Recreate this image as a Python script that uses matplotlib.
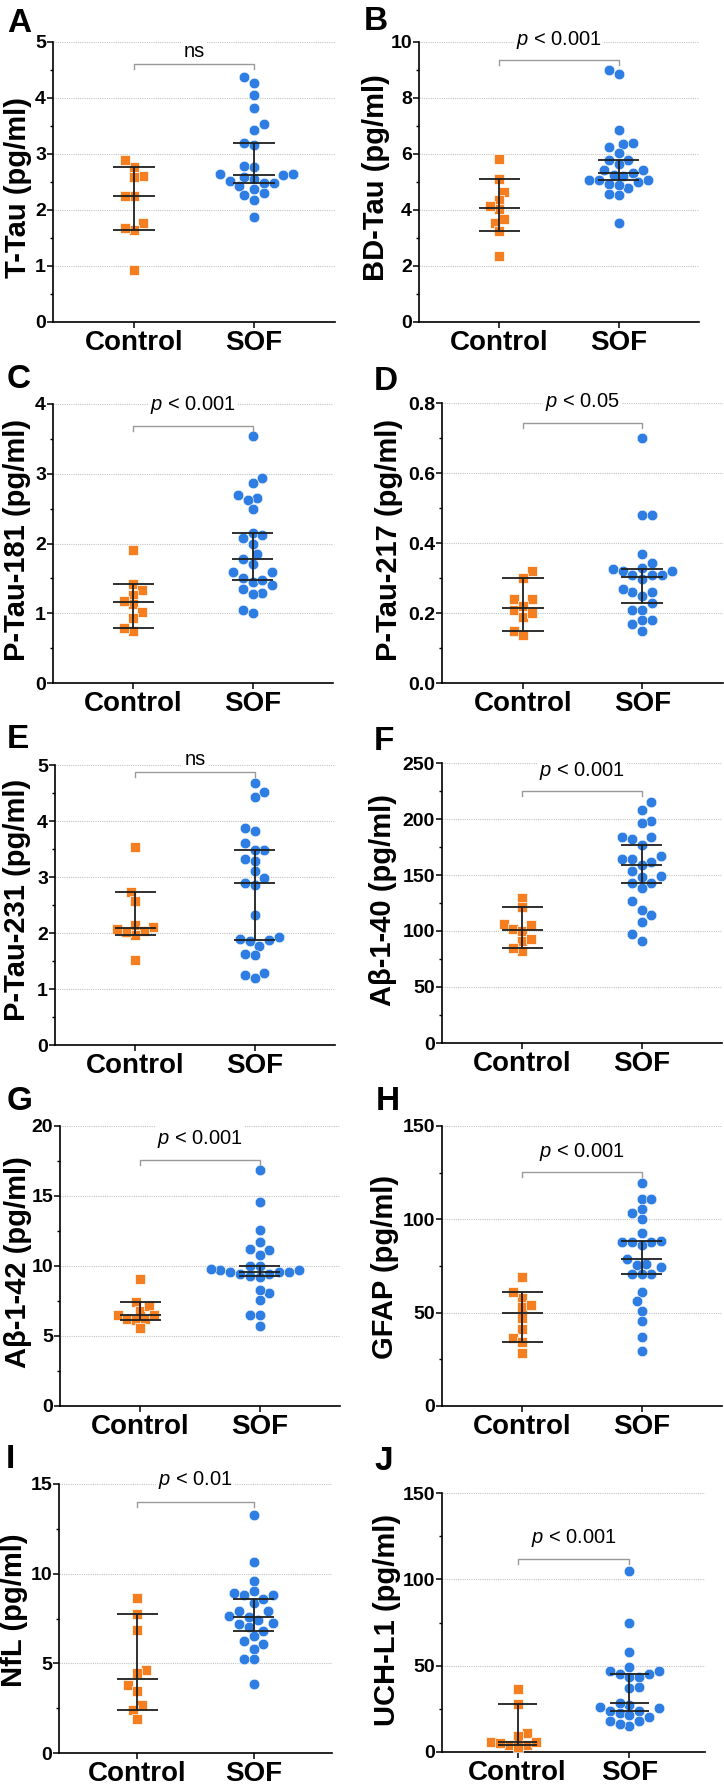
import numpy as np
import matplotlib
matplotlib.use("Agg")
import matplotlib.pyplot as plt
from matplotlib.ticker import MultipleLocator, FormatStrFormatter
from math import comb

# =========================================================
# DATA
# =========================================================
groups = ["Control", "SOF"]

ttau_ctrl = [2.61, 2.77, 2.89, 2.59, 2.25, 2.25, 1.77, 1.65, 1.68, 0.92]
ttau_sof = [4.38, 4.26, 4.05, 3.82, 3.54, 3.43, 3.20, 3.16, 2.79, 2.77, 2.625, 2.64,
            2.59, 2.64, 2.52, 2.55, 2.49, 2.49, 2.43, 2.37, 2.27, 2.31, 2.18, 1.88]

bdtau_ctrl = [5.83, 5.12, 4.64, 4.35, 4.02, 4.13, 3.54, 3.69, 3.25, 2.35]
bdtau_sof = [9.01, 8.85, 6.87, 6.25, 6.35, 6.40, 6.04, 5.77, 5.80, 5.65, 5.33, 5.21, 5.26,
             5.42, 5.42, 5.08, 5.06, 5.06, 4.99, 4.94, 4.80, 4.88, 4.52, 4.56, 3.54]

ptau181_ctrl = [1.90, 1.42, 1.34, 1.26, 1.13, 1.18, 1.02, 0.93, 0.74, 0.79]
ptau181_sof = [3.54, 2.94, 2.87, 2.70, 2.65, 2.63, 2.49, 2.15, 2.12, 2.08, 2.00, 1.85, 1.78,
               1.71, 1.59, 1.59, 1.45, 1.48, 1.50, 1.40, 1.35, 1.29, 1.27, 1.01, 1.05]

ptau217_ctrl = [0.319, 0.299, 0.240, 0.240, 0.210, 0.221, 0.189, 0.200, 0.148, 0.138]
ptau217_sof = [0.699, 0.479, 0.479, 0.368, 0.344, 0.325, 0.320, 0.330, 0.320, 0.308, 0.308,
               0.308, 0.298, 0.261, 0.269, 0.261, 0.248, 0.229, 0.210, 0.210, 0.179, 0.179,
               0.170, 0.150]

ptau231_ctrl = [3.54, 2.73, 2.58, 2.11, 2.14, 2.04, 1.96, 2.01, 2.07, 1.52]
ptau231_sof = [4.67, 4.51, 4.42, 3.88, 3.83, 3.60, 3.48, 3.48, 3.32, 3.29, 3.11, 2.89, 2.85,
               2.98, 2.33, 1.90, 1.92, 1.86, 1.88, 1.77, 1.60, 1.63, 1.28, 1.25, 1.19]

ab40_ctrl = [129.5, 121, 106.5, 102, 99.7, 105, 91.4, 93.2, 81.8, 84.5]
ab40_sof = [215, 208, 198, 196, 184, 184, 182, 177, 167, 164, 162, 164, 159, 154, 148, 149,
            143, 143, 138, 126.5, 114.6, 119, 108, 97.3, 90.8]

ab42_ctrl = [9.06, 7.44, 6.80, 7.16, 6.52, 6.25, 6.14, 6.18, 6.47, 5.54]
ab42_sof = [16.84, 14.58, 12.6, 11.72, 11.13, 11.18, 10.77, 9.70, 10.01, 9.99, 9.46, 9.18,
            9.6, 9.58, 9.3, 9.46, 9.58, 9.75, 9.77, 8.09, 8.28, 7.56, 6.49, 6.49, 5.71]

gfap_ctrl = [69.2, 58, 61.2, 52.8, 54, 46.9, 41.2, 36.6, 34.4, 28.5]
gfap_sof = [119.7, 111.1, 111.1, 103.6, 105.4, 100.1, 92.7, 88.5, 87.6, 87.6, 86.1, 87.6,
            78.5, 74.5, 75.4, 76, 70.6, 70.6, 70.6, 61.2, 56.2, 51, 45.7, 37.1, 29.6]

nfl_ctrl = [8.67, 7.75, 6.88, 4.64, 4.44, 3.80, 3.45, 2.70, 2.39, 1.89]
nfl_sof = [13.25, 10.65, 9.6, 8.81, 9.05, 8.92, 8.81, 8.39, 8.59, 7.62, 7.91, 7.91, 7.44,
           7.58, 7.20, 7.25, 6.83, 7.03, 6.52, 6.10, 6.24, 5.78, 5.23, 5.23, 3.86]

uchl1_ctrl = [36.6, 27.7, 11.0, 9.5, 3.8, 5.7, 3.8, 5.7, 2.8, 5.3]
uchl1_sof = [105, 75, 58.1, 46.7, 45.2, 43.3, 45.2, 49, 43.3, 46.7, 37, 37.6, 25.8, 25.3,
             23.9, 27.5, 28.5, 23.7, 22.4, 20.5, 21.5, 18.0, 18.0, 15.2, 16.3]

letters = ["A", "B", "C", "D", "E", "F", "G", "H", "I", "J"]
ylabels = ["T-Tau (pg/ml)", "BD-Tau (pg/ml)", "P-Tau-181 (pg/ml)", "P-Tau-217 (pg/ml)",
           "P-Tau-231 (pg/ml)", "Aβ-1-40 (pg/ml)", "Aβ-1-42 (pg/ml)", "GFAP (pg/ml)",
           "NfL (pg/ml)", "UCH-L1 (pg/ml)"]
ctrl_data = [ttau_ctrl, bdtau_ctrl, ptau181_ctrl, ptau217_ctrl, ptau231_ctrl,
             ab40_ctrl, ab42_ctrl, gfap_ctrl, nfl_ctrl, uchl1_ctrl]
sof_data = [ttau_sof, bdtau_sof, ptau181_sof, ptau217_sof, ptau231_sof,
            ab40_sof, ab42_sof, gfap_sof, nfl_sof, uchl1_sof]
y_max = [5, 10, 4, 0.8, 5, 250, 20, 150, 15, 150]
y_step = [1, 2, 1, 0.2, 1, 50, 5, 50, 5, 50]
p_labels = ["ns", "$\\mathit{p}$ < 0.001", "$\\mathit{p}$ < 0.001", "$\\mathit{p}$ < 0.05",
            "ns", "$\\mathit{p}$ < 0.001", "$\\mathit{p}$ < 0.001", "$\\mathit{p}$ < 0.001",
            "$\\mathit{p}$ < 0.01", "$\\mathit{p}$ < 0.001"]
bracket_y = [4.61, 9.35, 3.69, 0.743, 4.88, 225, 17.6, 125.4, 14.0, 112]
ptext_y = [4.83, 10.08, 3.99, 0.803, 5.09, 242.6, 19.1, 136, 15.2, 124]

# =========================================================
# LAYOUT (pixels in the 724 x 1787 output)
# =========================================================
W, H = 724, 1787
# left, right, top, bottom of each plot area
rects = [(53, 335, 42, 322), (419, 699, 42, 322),
         (53, 333, 404, 683), (442, 723, 403, 683),
         (55, 335, 765, 1045), (442, 722, 763, 1043),
         (60, 340, 1126, 1406), (442, 722, 1126, 1406),
         (59, 332, 1484, 1753), (442, 705, 1493, 1752)]
letter_pos = [(7, 32), (364, 30), (7, 388), (374, 390), (7, 748),
              (374, 750), (7, 1110), (376, 1110), (6, 1468), (374, 1470)]
ylabel_pos = [(18, 188), (376, 178), (17, 540), (389, 540), (17, 900),
              (383, 900), (18, 1262), (385, 1267), (14, 1610), (387, 1620)]

ORANGE = "#F57F20"
BLUE = "#2D7DE3"
XLIM = (-0.675, 1.675)

plt.rcParams['font.family'] = ['Liberation Sans', 'DejaVu Sans']
plt.rcParams['font.weight'] = 'bold'
plt.rcParams['mathtext.fontset'] = 'custom'
plt.rcParams['mathtext.it'] = 'Liberation Sans:style=italic:weight=normal'
plt.rcParams['mathtext.rm'] = 'Liberation Sans:weight=normal'


def median_ci(vals):
    # median with 95% CI from order statistics (binomial)
    v = np.sort(np.asarray(vals, float))
    n = len(v)
    cdf, k = 0.0, 0
    while True:
        p = comb(n, k) / 2 ** n
        if cdf + p > 0.025:
            break
        cdf += p
        k += 1
    return v[k - 1], np.median(v), v[n - k]


def swarm(vals, px_y, d, step):
    # simple beeswarm, offsets returned in pixels
    vals = np.asarray(vals, float)
    ys = vals * px_y
    offs = np.zeros(len(vals))
    px_list, py_list = [], []
    for i in np.argsort(vals):
        found = 0.0
        for k in range(60):
            if k == 0:
                cands = [0.0]
            elif sum(px_list) >= 0:
                cands = [-k * step, k * step]
            else:
                cands = [k * step, -k * step]
            ok = [c for c in cands
                  if all((c - px) ** 2 + (ys[i] - py) ** 2 >= d * d
                         for px, py in zip(px_list, py_list))]
            if ok:
                found = ok[0]
                break
        offs[i] = found
        px_list.append(found)
        py_list.append(ys[i])
    return offs


fig = plt.figure(figsize=(W / 100, H / 100), dpi=100)

for i in range(10):
    l, r, t, b = rects[i]
    ax = fig.add_axes([l / W, 1 - b / H, (r - l) / W, (b - t) / H])
    ymax = y_max[i]
    ax.set_xlim(*XLIM)
    ax.set_ylim(0, ymax)
    px_x = (r - l) / (XLIM[1] - XLIM[0])
    px_y = (b - t) / ymax

    for s in ["top", "right"]:
        ax.spines[s].set_visible(False)
    for s in ["left", "bottom"]:
        ax.spines[s].set_linewidth(1.2)

    ax.yaxis.set_major_locator(MultipleLocator(y_step[i]))
    ax.yaxis.set_minor_locator(MultipleLocator(y_step[i] / 2))
    if y_step[i] < 1:
        ax.yaxis.set_major_formatter(FormatStrFormatter('%.1f'))
    else:
        ax.yaxis.set_major_formatter(FormatStrFormatter('%d'))
    ax.tick_params(axis='y', which='major', length=4, width=1.1, pad=1, labelsize=14)
    ax.tick_params(axis='y', which='minor', length=2.5, width=1.0)
    ax.set_xticks([0, 1])
    ax.set_xticklabels(groups, fontsize=20, fontweight='bold')
    ax.tick_params(axis='x', length=4, width=1.1, pad=1.5)

    ax.yaxis.grid(True, which='major', linestyle=(0, (1, 1)), color='#c4c4c4', lw=0.8)
    ax.set_axisbelow(True)

    # points
    off_c = swarm(ctrl_data[i], px_y, 9.0, 4.5) / px_x
    off_s = swarm(sof_data[i], px_y, 9.8, 4.9) / px_x
    ax.scatter(0 + off_c, ctrl_data[i], marker='s', s=50, c=ORANGE,
               edgecolors='white', linewidths=0.5, zorder=3, clip_on=False)
    ax.scatter(1 + off_s, sof_data[i], marker='o', s=58, c=BLUE,
               edgecolors='white', linewidths=0.4, zorder=3, clip_on=False)

    # median with 95% CI
    for x, vals in [(0, ctrl_data[i]), (1, sof_data[i])]:
        lo, med, hi = median_ci(vals)
        ax.hlines([lo, med, hi], x - 0.175, x + 0.175, color='#1f1f1f', lw=1.3, zorder=4)
        ax.vlines(x, lo, hi, color='#1f1f1f', lw=1.3, zorder=4)

    # significance bracket
    tick = 5 / px_y
    by = bracket_y[i]
    ax.plot([0, 0, 1, 1], [by - tick, by, by, by - tick], color='#9a9a9a', lw=1.0,
            zorder=4, clip_on=False)
    ax.text(0.5, ptext_y[i], p_labels[i], ha='center', va='center', fontsize=14.5,
            fontweight='normal', zorder=5, clip_on=False,
            bbox=dict(fc='white', ec='none', pad=1.5))

    # axis label and panel letter
    lx, ly = ylabel_pos[i]
    fig.text(lx / W, 1 - ly / H, ylabels[i], rotation=90, ha='center', va='center',
             fontsize=21, fontweight='bold')
    px, py = letter_pos[i]
    fig.text(px / W, 1 - py / H, letters[i], ha='left', va='baseline',
             fontsize=24, fontweight='bold')

fig.savefig("out.png", dpi=100)
plt.close(fig)
